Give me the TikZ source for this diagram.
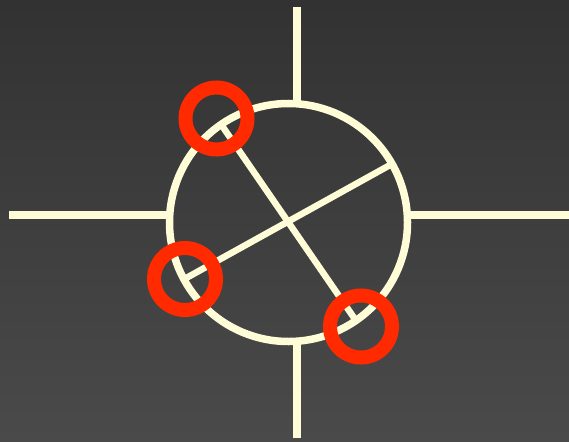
\documentclass[tikz,border=0pt]{standalone}
\usetikzlibrary{calc}
\definecolor{cream}{RGB}{255,253,215}
\definecolor{ringred}{RGB}{255,42,0}
\definecolor{bgtop}{RGB}{50,50,50}
\definecolor{bgbot}{RGB}{74,74,74}
\begin{document}
\begin{tikzpicture}[x=1pt,y=-1pt,
  wire/.style={cream,line width=7.5pt},
  chord/.style={cream,line width=6.5pt},
  tickmark/.style={cream,line width=4.5pt},
  markring/.style={ringred,line width=14pt}]
\shade[top color=bgtop,bottom color=bgbot] (0,0) rectangle (569,441);
\useasboundingbox (0,0) rectangle (569,441);
\coordinate (c) at (288.5,222.5);
% leads
\coordinate (t0) at (297,7);   \coordinate (t1) at (297,104);
\coordinate (b0) at (297,341); \coordinate (b1) at (297,438);
\coordinate (l0) at (9,215);   \coordinate (l1) at (170,215);
\coordinate (r0) at (407,215); \coordinate (r1) at (569,215);
\draw[wire] (t0) -- (t1);
\draw[wire] (b0) -- (b1);
\draw[wire] (l0) -- (l1);
\draw[wire] (r0) -- (r1);
% body
\draw[wire] (c) circle[radius=119];
% diameters (y axis points down, so angles are negated)
\coordinate (p1) at ($(c)+(-124.5:119)$);
\coordinate (p2) at ($(c)+(55.5:119)$);
\coordinate (q1) at ($(c)+(-208.5:119)$);
\coordinate (q2) at ($(c)+(-29.5:119)$);
\draw[chord] (p1) -- (p2);
\draw[chord] (q1) -- (q2);
% end ticks
\draw[tickmark] ($(p1)+(-214.5:7)$) -- ($(p1)+(-34.5:7)$);
\draw[tickmark] ($(p2)+(-34.5:7)$) -- ($(p2)+(-214.5:7)$);
\draw[tickmark] ($(q1)+(-298.5:7)$) -- ($(q1)+(-118.5:7)$);
% red rings
\coordinate (m1) at (216.5,118.5);
\coordinate (m2) at (185,279);
\coordinate (m3) at (361,326.5);
\foreach \m in {m1,m2,m3} \draw[markring] (\m) circle[radius=31];
\end{tikzpicture}
\end{document}
